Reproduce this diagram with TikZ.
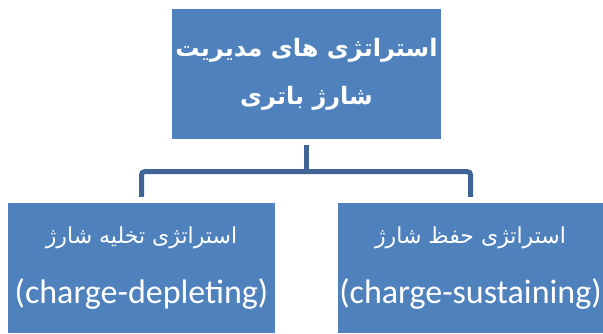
\documentclass[tikz,border=0pt]{standalone}
\usepackage{fontspec}
\usepackage{xcolor}
\usetikzlibrary{positioning}
\setmainfont{Carlito}
\newfontfamily\farsi[Script=Arabic]{DejaVu Sans}
\TeXXeTstate=1
\definecolor{boxblue}{HTML}{4F81BD}
\definecolor{lineblue}{HTML}{3F6495}
\newcommand{\fa}[1]{{\farsi\beginR #1\endR}}

\begin{document}
\begin{tikzpicture}[x=1pt,y=1pt,
  stratbox/.style={draw=none,fill=boxblue,text=white,align=center,inner sep=0pt},
  conn/.style={lineblue,line width=5pt,rounded corners=3pt}]
  \useasboundingbox (0,0) rectangle (603,333);
  \node[stratbox,minimum width=269pt,minimum height=130pt,
        font=\bfseries\fontsize{24}{48}\selectfont] (mgmt) at (306.5,259)
        {\fa{استراتژی های مدیریت}\\ \fa{شارژ باتری}};
  \node[stratbox,minimum width=267pt,minimum height=130pt,
        font=\fontsize{34}{60}\selectfont] (deplete) at (141.5,65)
        {{\fontsize{22}{60}\selectfont\fa{استراتژی تخلیه شارژ}}\\ (charge-depleting)};
  \node[stratbox,minimum width=265pt,minimum height=130pt,
        font=\fontsize{34}{60}\selectfont] (sustain) at (470.5,65)
        {{\fontsize{22}{60}\selectfont\fa{استراتژی حفظ شارژ}}\\ (charge-sustaining)};
  % tree connector
  \draw[conn] ([yshift=-6pt]mgmt.south) -- ++(0,-26.5) coordinate (hub);
  \draw[conn] ([yshift=6pt]deplete.north) |- (hub) -| ([yshift=6pt]sustain.north);
\end{tikzpicture}
\end{document}
